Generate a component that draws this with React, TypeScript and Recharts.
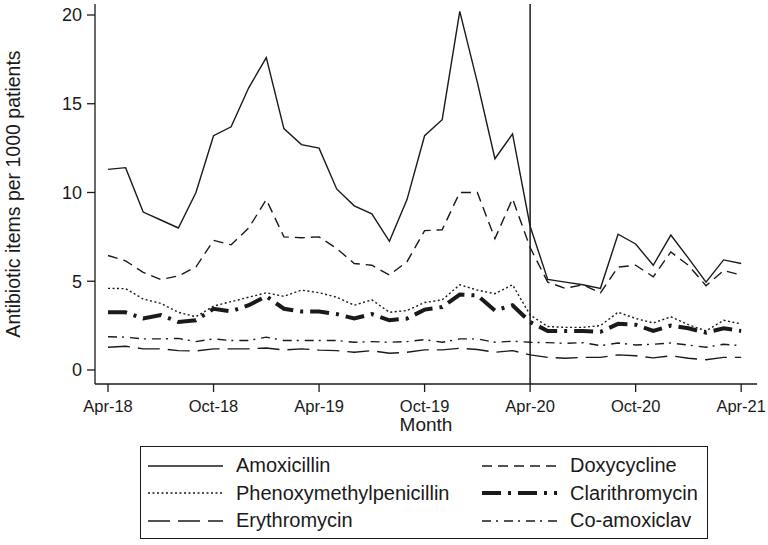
import { LineChart, Line, XAxis, YAxis, ReferenceLine } from 'recharts'

const months = [
  'Apr-18', 'May-18', 'Jun-18', 'Jul-18', 'Aug-18', 'Sep-18', 'Oct-18', 'Nov-18', 'Dec-18',
  'Jan-19', 'Feb-19', 'Mar-19', 'Apr-19', 'May-19', 'Jun-19', 'Jul-19', 'Aug-19', 'Sep-19',
  'Oct-19', 'Nov-19', 'Dec-19', 'Jan-20', 'Feb-20', 'Mar-20', 'Apr-20', 'May-20', 'Jun-20',
  'Jul-20', 'Aug-20', 'Sep-20', 'Oct-20', 'Nov-20', 'Dec-20', 'Jan-21', 'Feb-21', 'Mar-21', 'Apr-21',
]

const amoxicillin = [
  11.3, 11.4, 8.9, 8.45, 8.0, 10.0, 13.2, 13.7, 15.9, 17.6, 13.6, 12.7, 12.5, 10.2, 9.25, 8.8, 7.25, 9.6,
  13.2, 14.1, 20.2, 16.2, 11.9, 13.3, 8.1, 5.1, 4.95, 4.8, 4.6, 7.65, 7.1, 5.9, 7.6, 6.3, 4.95, 6.2, 6.0,
]
const doxycycline = [
  6.45, 6.15, 5.5, 5.1, 5.3, 5.8, 7.3, 7.05, 8.0, 9.6, 7.5, 7.45, 7.5, 6.85, 6.0, 5.9, 5.35, 6.1,
  7.85, 7.9, 10.0, 10.0, 7.4, 9.65, 6.9, 4.95, 4.6, 4.8, 4.35, 5.8, 5.9, 5.25, 6.65, 5.9, 4.75, 5.6, 5.35,
]
const phenoxymethylpenicillin = [
  4.6, 4.58, 4.0, 3.75, 3.25, 3.0, 3.6, 3.85, 4.1, 4.35, 4.15, 4.5, 4.35, 4.1, 3.65, 3.95, 3.25, 3.35,
  3.8, 3.95, 4.8, 4.5, 4.3, 4.8, 3.1, 2.45, 2.4, 2.4, 2.5, 3.25, 2.9, 2.65, 3.0, 2.55, 2.2, 2.8, 2.6,
]
const clarithromycin = [
  3.25, 3.25, 2.9, 3.1, 2.7, 2.8, 3.45, 3.3, 3.65, 4.15, 3.45, 3.3, 3.3, 3.15, 2.9, 3.15, 2.8, 2.9,
  3.4, 3.55, 4.25, 4.2, 3.35, 3.65, 2.7, 2.2, 2.2, 2.2, 2.15, 2.6, 2.55, 2.2, 2.5, 2.35, 2.1, 2.35, 2.2,
]
const erythromycin = [
  1.28, 1.34, 1.19, 1.19, 1.09, 1.07, 1.19, 1.19, 1.19, 1.24, 1.13, 1.19, 1.12, 1.09, 1.0, 1.09, 0.94, 1.0,
  1.13, 1.13, 1.22, 1.15, 1.0, 1.09, 0.85, 0.71, 0.66, 0.71, 0.71, 0.85, 0.8, 0.68, 0.8, 0.66, 0.58, 0.71, 0.71,
]
const coAmoxiclav = [
  1.87, 1.85, 1.75, 1.75, 1.78, 1.6, 1.75, 1.66, 1.66, 1.85, 1.66, 1.66, 1.66, 1.66, 1.56, 1.6, 1.56, 1.6,
  1.71, 1.56, 1.75, 1.75, 1.56, 1.62, 1.56, 1.54, 1.5, 1.54, 1.37, 1.52, 1.41, 1.45, 1.52, 1.4, 1.28, 1.45, 1.37,
]

const xTicks = [0, 6, 12, 18, 24, 30, 36]
const yTicks = [0, 5, 10, 15, 20]
const breakIndex = 24

const series = [
  { key: 'amox', name: 'Amoxicillin', values: amoxicillin, width: 1.4, dash: undefined },
  { key: 'doxy', name: 'Doxycycline', values: doxycycline, width: 1.4, dash: '10 6' },
  { key: 'pen', name: 'Phenoxymethylpenicillin', values: phenoxymethylpenicillin, width: 1.4, dash: '2 2.5' },
  { key: 'clari', name: 'Clarithromycin', values: clarithromycin, width: 4, dash: '19 7 3 7' },
  { key: 'ery', name: 'Erythromycin', values: erythromycin, width: 1.4, dash: '22 8' },
  { key: 'coamox', name: 'Co-amoxiclav', values: coAmoxiclav, width: 1.4, dash: '9 5 2 6' },
]

const data = months.map((m, i) => {
  const row: Record<string, number | string> = { i, month: m }
  series.forEach((s) => { row[s.key] = s.values[i] })
  return row
})

const FONT = '"Liberation Sans", Arial, sans-serif'
const INK = '#1a1a1a'

function LegendItem({ s }: { s: (typeof series)[number] }) {
  return (
    <div style={{ display: 'flex', alignItems: 'center', height: 27.5 }}>
      <svg width={76} height={10} style={{ marginRight: 12 }}>
        <line x1={0} y1={5} x2={75} y2={5} stroke={INK} strokeWidth={s.width} strokeDasharray={s.dash} />
      </svg>
      <span>{s.name}</span>
    </div>
  )
}

export default function App() {
  const left = series.filter((_, i) => i % 2 === 0)
  const right = series.filter((_, i) => i % 2 === 1)
  return (
    <div style={{ position: 'absolute', left: 0, top: 0, width: 768, height: 545, background: '#fff', fontFamily: FONT }}>
      <LineChart width={768} height={445} data={data} margin={{ top: 4, right: 11, left: 0, bottom: 0 }}>
        <XAxis
          dataKey="i"
          type="number"
          domain={[-0.74, 36.9]}
          ticks={xTicks}
          tickFormatter={(v: number) => months[v]}
          tickSize={8}
          tickMargin={8}
          height={61}
          stroke={INK}
          strokeWidth={1.3}
          tick={{ fill: INK, fontSize: 16.5, fontFamily: FONT }}
          allowDataOverflow
          label={{ value: 'Month', position: 'insideBottom', offset: 14, fill: INK, fontSize: 19, fontFamily: FONT }}
        />
        <YAxis
          type="number"
          domain={[-0.79, 20.62]}
          ticks={yTicks}
          tickSize={8}
          tickMargin={5}
          width={95}
          stroke={INK}
          strokeWidth={1.3}
          tick={{ fill: INK, fontSize: 18, fontFamily: FONT }}
          allowDataOverflow
          label={{
            value: 'Antibiotic items per 1000 patients',
            angle: -90,
            position: 'insideLeft',
            offset: 13,
            fill: INK,
            fontSize: 19.5,
            fontFamily: FONT,
            style: { textAnchor: 'middle' },
          }}
        />
        <ReferenceLine x={breakIndex} stroke={INK} strokeWidth={1.5} />
        {series.map((s) => (
          <Line
            key={s.key}
            dataKey={s.key}
            name={s.name}
            stroke={INK}
            strokeWidth={s.width}
            strokeDasharray={s.dash}
            dot={false}
            activeDot={false}
            isAnimationActive={false}
          />
        ))}
      </LineChart>
      <div
        style={{
          position: 'absolute',
          left: 140,
          top: 446,
          width: 568,
          height: 93,
          border: `1.5px solid ${INK}`,
          boxSizing: 'border-box',
          display: 'flex',
          paddingLeft: 7,
          paddingTop: 5,
          fontSize: 20,
          color: INK,
        }}
      >
        <div style={{ width: 334 }}>
          {left.map((s) => <LegendItem key={s.key} s={s} />)}
        </div>
        <div>
          {right.map((s) => <LegendItem key={s.key} s={s} />)}
        </div>
      </div>
    </div>
  )
}
